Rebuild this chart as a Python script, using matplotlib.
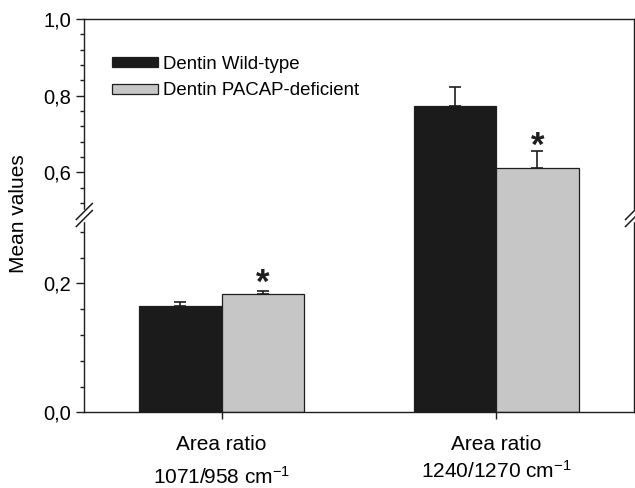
import matplotlib
matplotlib.use("Agg")
import matplotlib.pyplot as plt
from matplotlib.ticker import MultipleLocator, FuncFormatter
from matplotlib.patches import Patch
from matplotlib.lines import Line2D

plt.rcParams['font.family'] = ['Liberation Sans', 'DejaVu Sans']
plt.rcParams['mathtext.fontset'] = 'custom'
plt.rcParams['mathtext.rm'] = 'Liberation Sans'
plt.rcParams['mathtext.default'] = 'regular'

categories = ["Area ratio\n1071/958 cm$^{-1}$", "Area ratio\n1240/1270 cm$^{-1}$"]
series_names = ["Dentin Wild-type", "Dentin PACAP-deficient"]
wild_type = [0.165, 0.773]
wild_type_err = [0.006, 0.050]
pacap = [0.183, 0.612]
pacap_err = [0.005, 0.045]
significant_p = [True, True]  # PACAP-deficient vs wild type

W, H = 635, 488
fig = plt.figure(figsize=(W / 100, H / 100), dpi=100)

def fx(px):
    return px / W

def fy(py):
    return 1 - py / H

left, right = 84.3, 633.5
top, brk, bottom = 19, 215, 412.3
ax_top = fig.add_axes([fx(left), fy(brk), fx(right) - fx(left), fy(top) - fy(brk)])
ax_bot = fig.add_axes([fx(left), fy(bottom), fx(right) - fx(left), fy(brk) - fy(bottom)])

dark = '#1b1b1b'
grey = '#c6c6c6'
edge = '#1e1e1e'
width = 0.3
x = [0, 1]
xw = [xi - width / 2 for xi in x]
xp = [xi + width / 2 for xi in x]

fmt = FuncFormatter(lambda v, p: f"{v:.1f}".replace('.', ','))

for ax in (ax_top, ax_bot):
    ax.bar(xw, wild_type, width=width, color=dark, edgecolor=edge, linewidth=0.9, zorder=2)
    ax.bar(xp, pacap, width=width, color=grey, edgecolor=edge, linewidth=0.9, zorder=2)
    ax.errorbar(xw, wild_type, yerr=[[0, 0], wild_type_err], fmt='none', ecolor=edge,
                elinewidth=1.2, capsize=4.6, capthick=1.2, zorder=3)
    ax.errorbar(xp, pacap, yerr=[[0, 0], pacap_err], fmt='none', ecolor=edge,
                elinewidth=1.2, capsize=4.6, capthick=1.2, zorder=3)
    ax.set_xlim(-0.5, 1.5)
    ax.yaxis.set_major_locator(MultipleLocator(0.2))
    ax.yaxis.set_minor_locator(MultipleLocator(0.04))
    ax.yaxis.set_major_formatter(fmt)
    ax.tick_params(axis='y', which='major', direction='out', length=5.5, width=1, color=edge,
                   labelsize=14.5, pad=4, right=False)
    ax.tick_params(axis='y', which='minor', direction='out', length=3, width=1, color=edge, right=False)
    for s in ax.spines.values():
        s.set_linewidth(1.0)
        s.set_color(edge)
    ax.set_facecolor('none')

ax_top.set_ylim(0.489, 1.0)
ax_bot.set_ylim(0.0, 0.306)
ax_top.spines['bottom'].set_visible(False)
ax_bot.spines['top'].set_visible(False)
ax_top.tick_params(axis='x', which='both', bottom=False, top=False, labelbottom=False)
ax_bot.set_xticks(x)
ax_bot.set_xticklabels(categories, fontsize=15)
ax_bot.tick_params(axis='x', which='major', direction='out', length=5, width=1, color=edge,
                   pad=11, top=False)
for lab, ls in zip(ax_bot.get_xticklabels(), (1.7, 1.35)):
    lab.set_linespacing(ls)

# significance stars
for i in range(2):
    ax = ax_bot if i == 0 else ax_top
    if significant_p[i]:
        off = -6 if i == 0 else -8.5
        ax.annotate('*', (xp[i], pacap[i] + pacap_err[i]), xytext=(0, off),
                    textcoords='offset points', ha='center', va='bottom',
                    fontsize=25, fontweight='bold', color=edge)

fig.text(fx(19), fy(214), 'Mean values', rotation=90, ha='center', va='center',
         fontsize=15)

handles = [Patch(facecolor=dark, edgecolor=edge, linewidth=0.9),
           Patch(facecolor=grey, edgecolor=edge, linewidth=0.9)]
fig.legend(handles, series_names, loc='upper left', bbox_to_anchor=(fx(112), fy(56)),
           frameon=False, fontsize=13.4, handlelength=2.45, handleheight=0.45,
           handletextpad=0.3, labelspacing=0.5, borderpad=0, borderaxespad=0)

# break marks
for xc in (left, right):
    fig.add_artist(Line2D([fx(xc), fx(xc)], [fy(210.5), fy(219.5)], color='white', linewidth=2.5,
                          transform=fig.transFigure, zorder=10))
    for yc in (211.5, 218.5):
        fig.add_artist(Line2D([fx(xc - 8), fx(xc + 8)], [fy(yc + 8), fy(yc - 8)], color=edge,
                              linewidth=1.1, transform=fig.transFigure, zorder=11))

fig.savefig('out.png', dpi=100)
